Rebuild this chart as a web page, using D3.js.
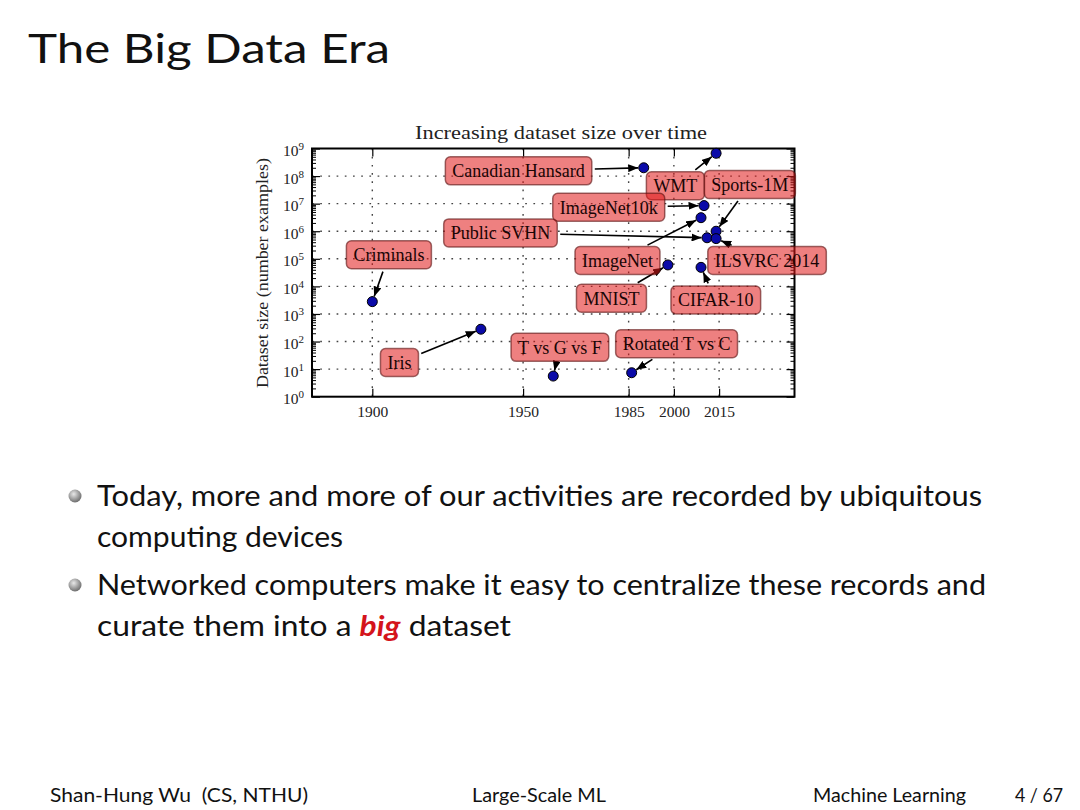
<!DOCTYPE html>
<html>
<head>
<meta charset="utf-8">
<script src="https://cdn.jsdelivr.net/npm/d3@7"></script>
<style>
  body { margin: 0; background: #fff; }
  svg { display: block; }
</style>
</head>
<body>
<div id="slide"></div>
<script>
// datasets
const names = ["Criminals", "Iris", "T vs G vs F", "Rotated T vs C", "MNIST", "CIFAR-10",
  "Canadian Hansard", "WMT", "ImageNet10k", "ImageNet", "Public SVHN", "Sports-1M", "ILSVRC 2014"];
const years = [1900, 1936, 1960, 1986, 1998, 2009, 1990, 2014, 2010, 2009, 2011, 2014, 2014];
const sizes = [2.8e3, 2.8e2, 5.6, 7.4, 6e4, 4.9e4, 2e8, 6.7e8, 8.5e6, 3.1e6, 5.8e5, 1.0e6, 5.4e5];
// where each label box is centred (year, size)
const labelYears = [1905.5, 1909, 1962.2, 2000.9, 1979.3, 2013.9, 1948.5, 2000.5, 1978.4, 1981.3, 1942.5, 2025.2, 2030.9];
const labelSizes = [1.4e5, 17.4, 61.7, 83.2, 3.7e3, 3.2e3, 1.55e8, 4.47e7, 7.41e6, 8.71e4, 8.71e5, 4.9e7, 8.71e4];

const xTicks = [1900, 1950, 1985, 2000, 2015];
const yExponents = [0, 1, 2, 3, 4, 5, 6, 7, 8, 9];

const slideTitle = "The Big Data Era";
const chartTitle = "Increasing dataset size over time";
const yLabel = "Dataset size (number examples)";
const bullets = [
  ["Today, more and more of our activities are recorded by ubiquitous", "computing devices"],
  ["Networked computers make it easy to centralize these records and", "curate them into a |big| dataset"]
];
const footer = ["Shan-Hung Wu  (CS, NTHU)", "Large-Scale ML", "Machine Learning", "4 / 67"];

const width = 1080, height = 810;
const sans = "Lato, 'Open Sans', sans-serif";
const serif = "'Liberation Serif', 'DejaVu Serif', serif";

// stretch a text run to the width it has on the slide
const fit = (sel, w) => sel.attr("textLength", w).attr("lengthAdjust", "spacingAndGlyphs");

const svg = d3.select("#slide").append("svg")
    .attr("width", width)
    .attr("height", height)
    .attr("viewBox", [0, 0, width, height]);

svg.append("rect").attr("width", width).attr("height", height).attr("fill", "#fff");

// ---- slide text
svg.append("text")
    .attr("x", 28).attr("y", 63)
    .attr("font-family", sans).attr("font-size", 41)
    .attr("fill", "#111")
    .text(slideTitle)
    .call(fit, 362);

const defs = svg.append("defs");
const grad = defs.append("radialGradient").attr("id", "ball").attr("cx", "40%").attr("cy", "35%").attr("r", "65%");
grad.append("stop").attr("offset", "0%").attr("stop-color", "#e8e8e8");
grad.append("stop").attr("offset", "100%").attr("stop-color", "#6e6e6e");

const lineY = [[506, 546.5], [595, 635.5]];
const lineW = [[885, 246], [889, 414]];
bullets.forEach((lines, i) => {
  svg.append("circle").attr("cx", 75).attr("cy", lineY[i][0] - 10).attr("r", 6.5).attr("fill", "url(#ball)");
  lines.forEach((line, j) => {
    const t = svg.append("text")
        .attr("x", 97).attr("y", lineY[i][j])
        .attr("font-family", sans).attr("font-size", 29)
        .attr("fill", "#111");
    line.split("|").forEach((part, k) => {
      const s = t.append("tspan").text(part);
      if (k % 2 === 1) s.attr("fill", "#d4141c").attr("font-weight", "bold").attr("font-style", "italic");
    });
    t.call(fit, lineW[i][j]);
  });
});

const footerX = [50, 472, 813, 1015];
const footerW = [258, 134, 153, 48];
footer.forEach((f, i) => {
  svg.append("text")
      .attr("x", footerX[i]).attr("y", 802)
      .attr("font-family", sans).attr("font-size", 19.5)
      .attr("fill", "#111")
      .attr("xml:space", "preserve")
      .text(f)
      .call(fit, footerW[i]);
});

// ---- chart
const x = d3.scaleLinear([1880, 2040], [312, 794.5]);
const y = d3.scaleLog([1, 1e9], [396.7, 148.5]);
const [x0, x1] = x.range();
const [yb, yt] = y.range();
const majors = yExponents.map(e => 10 ** e);
const minors = yExponents.slice(0, -1).flatMap(e => d3.range(2, 10).map(k => k * 10 ** e));

const chart = svg.append("g").attr("font-family", serif);

chart.append("text")
    .attr("x", 415).attr("y", 139)
    .attr("font-size", 18)
    .attr("fill", "#222")
    .text(chartTitle)
    .call(fit, 292);

chart.append("text")
    .attr("transform", `translate(268,${(yb + yt) / 2 + 0.5}) rotate(-90)`)
    .attr("text-anchor", "middle")
    .attr("font-size", 17)
    .attr("fill", "#222")
    .text(yLabel)
    .call(fit, 230);

// dotted grid
const grid = chart.append("g")
    .attr("stroke", "#444")
    .attr("stroke-width", 1.4)
    .attr("stroke-dasharray", "1.7,6.5");
grid.selectAll(".gy").data(majors.slice(1, -1)).join("line")
    .attr("x1", x0).attr("x2", x1)
    .attr("y1", d => y(d)).attr("y2", d => y(d));
grid.selectAll(".gx").data(xTicks).join("line")
    .attr("class", "gx")
    .attr("x1", d => x(d)).attr("x2", d => x(d))
    .attr("y1", yt).attr("y2", yb);

// axes with inward ticks
chart.append("g")
    .attr("transform", `translate(0,${yb})`)
    .call(d3.axisBottom(x).tickValues(xTicks).tickSizeInner(-8).tickSizeOuter(0).tickPadding(9).tickFormat(d3.format("d")))
    .call(g => g.select(".domain").remove())
    .call(g => g.selectAll(".tick line").attr("stroke", "#000").attr("stroke-width", 1.2))
    .call(g => g.selectAll(".tick text").attr("font-family", serif).attr("font-size", 15.5).attr("fill", "#222"));

chart.append("g")
    .attr("transform", `translate(0,${yt})`)
    .call(d3.axisTop(x).tickValues(xTicks).tickSizeInner(-8).tickSizeOuter(0).tickFormat(""))
    .call(g => g.select(".domain").remove())
    .call(g => g.selectAll(".tick line").attr("stroke", "#000").attr("stroke-width", 1.2));

chart.append("g")
    .attr("transform", `translate(${x0},0)`)
    .call(d3.axisLeft(y).tickValues(majors).tickSizeInner(-8).tickSizeOuter(0).tickPadding(8))
    .call(g => g.select(".domain").remove())
    .call(g => g.selectAll(".tick line").attr("stroke", "#000").attr("stroke-width", 1.2))
    .call(g => g.selectAll(".tick text").each(function(d) {
      const t = d3.select(this).text(null)
          .attr("font-family", serif).attr("font-size", 15.5).attr("fill", "#222").attr("dy", "0.45em");
      t.append("tspan").text("10");
      t.append("tspan").attr("dy", "-0.55em").attr("font-size", 11).text(Math.round(Math.log10(d)));
    }));

chart.append("g")
    .attr("transform", `translate(${x0},0)`)
    .call(d3.axisLeft(y).tickValues(minors).tickSizeInner(-4).tickSizeOuter(0).tickFormat(""))
    .call(g => g.select(".domain").remove())
    .call(g => g.selectAll(".tick line").attr("stroke", "#000").attr("stroke-width", 1));

chart.append("g")
    .attr("transform", `translate(${x1},0)`)
    .call(d3.axisRight(y).tickValues(majors).tickSizeInner(-8).tickSizeOuter(0).tickFormat(""))
    .call(g => g.select(".domain").remove())
    .call(g => g.selectAll(".tick line").attr("stroke", "#000").attr("stroke-width", 1.2));

chart.append("g")
    .attr("transform", `translate(${x1},0)`)
    .call(d3.axisRight(y).tickValues(minors).tickSizeInner(-4).tickSizeOuter(0).tickFormat(""))
    .call(g => g.select(".domain").remove())
    .call(g => g.selectAll(".tick line").attr("stroke", "#000").attr("stroke-width", 1));

chart.append("rect")
    .attr("x", x0).attr("y", yt)
    .attr("width", x1 - x0).attr("height", yb - yt)
    .attr("fill", "none").attr("stroke", "#000").attr("stroke-width", 2);

// points
chart.append("g")
  .selectAll("circle")
  .data(d3.range(names.length))
  .join("circle")
    .attr("cx", i => x(years[i]))
    .attr("cy", i => y(sizes[i]))
    .attr("r", 5)
    .attr("fill", "#0a0aa8")
    .attr("stroke", "#000")
    .attr("stroke-width", 1);

// annotations: label boxes with arrows
defs.append("marker")
    .attr("id", "head")
    .attr("markerUnits", "userSpaceOnUse")
    .attr("viewBox", "0 0 10 8")
    .attr("refX", 10).attr("refY", 4)
    .attr("markerWidth", 10).attr("markerHeight", 8)
    .attr("orient", "auto")
  .append("path")
    .attr("d", "M0,0L10,4L0,8z")
    .attr("fill", "#000");

const arrows = chart.append("g");
const boxes = chart.append("g");

names.forEach((name, i) => {
  const cx = x(labelYears[i]), cy = y(labelSizes[i]);
  const g = boxes.append("g");
  const rect = g.append("rect");
  const t = g.append("text")
      .attr("x", cx).attr("y", cy)
      .attr("dy", "0.35em")
      .attr("text-anchor", "middle")
      .attr("font-size", 18)
      .attr("fill", "#1a0505")
      .text(name);
  const w = t.node().getComputedTextLength() + 14, h = 28;
  rect.attr("x", cx - w / 2).attr("y", cy - h / 2)
      .attr("width", w).attr("height", h)
      .attr("rx", 5)
      .attr("fill", "#e01818").attr("fill-opacity", 0.55)
      .attr("stroke", "#5a1010").attr("stroke-opacity", 0.6).attr("stroke-width", 1.5);

  const px = x(years[i]), py = y(sizes[i]);
  const dx = px - cx, dy = py - cy, len = Math.hypot(dx, dy);
  const ux = dx / len, uy = dy / len;
  const s = Math.min(Math.abs(w / 2 / dx) || Infinity, Math.abs(h / 2 / dy) || Infinity) * len + 3;
  arrows.append("line")
      .attr("x1", cx + ux * s).attr("y1", cy + uy * s)
      .attr("x2", px - ux * 5.5).attr("y2", py - uy * 5.5)
      .attr("stroke", "#000").attr("stroke-width", 1.6)
      .attr("marker-end", "url(#head)");
});
</script>
</body>
</html>
